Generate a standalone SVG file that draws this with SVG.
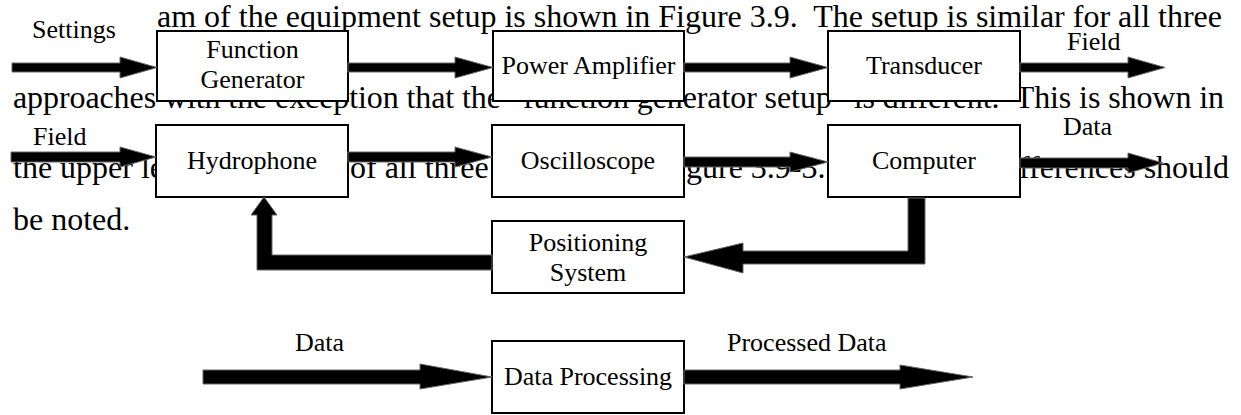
<svg xmlns="http://www.w3.org/2000/svg" width="1241" height="415" viewBox="0 0 1241 415">
<style>
.body{font-family:"Liberation Serif","Times New Roman",serif;font-size:32px;fill:#000;white-space:pre}
.lbl{font-family:"Liberation Serif","Times New Roman",serif;font-size:26px;fill:#000}
.c{text-anchor:middle}
.box{fill:#fff;stroke:#000;stroke-width:2}
.arr{fill:#000;stroke:#666;stroke-width:1;stroke-linejoin:miter}
</style>
<rect width="1241" height="415" fill="#fff"/>
<g id="background-text">
<text class="body" x="157" y="27" xml:space="preserve" textLength="1065" lengthAdjust="spacing">am of the equipment setup is shown in Figure 3.9.  The setup is similar for all three</text>
<text class="body" x="13" y="108" xml:space="preserve" textLength="1211" lengthAdjust="spacing">approaches with the exception that the “function generator setup” is different.  This is shown in</text>
<text class="body" x="13" y="178">the upper le</text>
<text class="body" x="350" y="178">of all three</text>
<text class="body" x="686" y="178">gure 3.9-3.</text>
<text class="body" x="1019" y="178">fferences should</text>
<text class="body" x="13" y="230">be noted.</text>
</g>
<g id="function-generator">
<rect class="box" x="157" y="31" width="191" height="70"/>
<text class="lbl c" x="252.5" y="58">Function</text>
<text class="lbl c" x="252.5" y="88">Generator</text>
</g>
<g id="power-amplifier">
<rect class="box" x="493" y="31" width="191" height="70"/>
<text class="lbl c" x="588.5" y="74">Power Amplifier</text>
</g>
<g id="transducer">
<rect class="box" x="828" y="31" width="192" height="70"/>
<text class="lbl c" x="924" y="74">Transducer</text>
</g>
<g id="hydrophone">
<rect class="box" x="156" y="125" width="192" height="72"/>
<text class="lbl c" x="252" y="169">Hydrophone</text>
</g>
<g id="oscilloscope">
<rect class="box" x="492" y="125" width="192" height="72"/>
<text class="lbl c" x="588" y="169">Oscilloscope</text>
</g>
<g id="computer">
<rect class="box" x="828" y="125" width="192" height="72"/>
<text class="lbl c" x="924" y="169">Computer</text>
</g>
<g id="positioning-system">
<rect class="box" x="492" y="221" width="192" height="72"/>
<text class="lbl c" x="588" y="251">Positioning</text>
<text class="lbl c" x="588" y="281">System</text>
</g>
<g id="data-processing">
<rect class="box" x="492" y="341" width="192" height="72"/>
<text class="lbl c" x="588" y="385">Data Processing</text>
</g>
<g id="connectors">
<polygon class="arr" points="12,63 120,63 120,57 157,67.5 120,78 120,72 12,72"/>
<polygon class="arr" points="348,63 455,63 455,57 493,67.5 455,78 455,72 348,72"/>
<polygon class="arr" points="684,63 790,63 790,57 828,67.5 790,78 790,72 684,72"/>
<polygon class="arr" points="1020,63 1128,63 1128,57 1165,67.5 1128,78 1128,72 1020,72"/>
<polygon class="arr" points="11,152 120,152 120,147 156,157 120,167 120,162 11,162"/>
<polygon class="arr" points="348,152 455,152 455,147 492,157 455,167 455,162 348,162"/>
<polygon class="arr" points="684,157 790,157 790,152 828,162 790,172 790,167 684,167"/>
<polygon class="arr" points="1020,158 1128,158 1128,153 1163,163 1128,173 1128,168 1020,168"/>
<polygon class="arr" points="908,198 925,198 925,264 743,264 743,273 684,257 743,243 743,251 908,251"/>
<polygon class="arr" points="492,255 492,270 257,270 257,215 251,215 264,197 277,215 272,215 272,255"/>
<polygon class="arr" points="203,370 420,370 420,364 492,377 420,389 420,384 203,384"/>
<polygon class="arr" points="684,370 900,370 900,365 973,377 900,389 900,384 684,384"/>
</g>
<g id="labels">
<text class="lbl" x="32" y="38">Settings</text>
<text class="lbl" x="1067" y="50">Field</text>
<text class="lbl" x="33" y="145">Field</text>
<text class="lbl" x="1063" y="135">Data</text>
<text class="lbl" x="295" y="351">Data</text>
<text class="lbl" x="727" y="351">Processed Data</text>
</g>
</svg>
